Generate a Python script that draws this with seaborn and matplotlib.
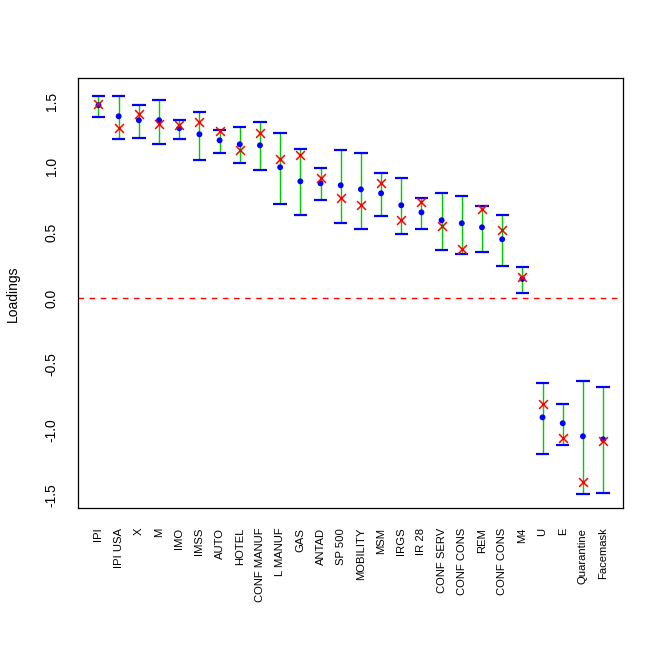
import numpy as np
import pandas as pd
import matplotlib
matplotlib.use("Agg")
import matplotlib.pyplot as plt
import seaborn as sns

# loadings
labels = ["IPI", "IPI USA", "X", "M", "IMO", "IMSS", "AUTO", "HOTEL",
          "CONF MANUF", "L MANUF", "GAS", "ANTAD", "SP 500", "MOBILITY",
          "MSM", "IRGS", "IR 28", "CONF SERV", "CONF CONS", "REM",
          "CONF CONS", "M4", "U", "E", "Quarantine", "Facemask"]
estimate = [1.469, 1.385, 1.355, 1.355, 1.294, 1.248, 1.202, 1.172,
            1.164, 0.997, 0.890, 0.875, 0.860, 0.829, 0.799, 0.708,
            0.654, 0.594, 0.571, 0.540, 0.449, 0.147, -0.906, -0.951,
            -1.050, -1.073]
alt_estimate = [1.479, 1.298, 1.405, 1.324, 1.320, 1.344, 1.276, 1.129,
                1.260, 1.063, 1.093, 0.913, 0.766, 0.708, 0.877, 0.598,
                0.730, 0.548, 0.373, 0.677, 0.522, 0.164, -0.802, -1.063,
                -1.396, -1.088]
upper = [1.542, 1.542, 1.473, 1.512, 1.359, 1.420, 1.283, 1.306,
         1.344, 1.260, 1.139, 0.994, 1.131, 1.106, 0.956, 0.918,
         0.766, 0.799, 0.781, 0.705, 0.634, 0.240, -0.642, -0.802,
         -0.627, -0.673]
lower = [1.382, 1.212, 1.220, 1.177, 1.212, 1.052, 1.108, 1.030,
         0.979, 0.718, 0.634, 0.750, 0.575, 0.530, 0.626, 0.489,
         0.530, 0.370, 0.339, 0.355, 0.248, 0.043, -1.183, -1.114,
         -1.487, -1.479]

df = pd.DataFrame({
    "pos": np.arange(1, len(labels) + 1),
    "label": labels,
    "estimate": estimate,
    "alt": alt_estimate,
    "upper": upper,
    "lower": lower,
})

sns.set_style("white")
plt.rcParams["font.family"] = ["Liberation Sans", "DejaVu Sans"]
plt.rcParams["text.color"] = "black"
plt.rcParams["axes.labelcolor"] = "black"
plt.rcParams["xtick.color"] = "black"
plt.rcParams["ytick.color"] = "black"

fig = plt.figure(figsize=(6.64, 6.64), dpi=100)
ax = fig.add_axes([78.3 / 664, 1 - 508.3 / 664, 545 / 664, 430 / 664])

# intervals and caps
ax.vlines(df["pos"], df["lower"], df["upper"], color="#00cc00", lw=1.0, zorder=2)
cap = 0.33
ax.hlines(df["upper"], df["pos"] - cap, df["pos"] + cap, color="#0000ff", lw=1.6, zorder=3)
ax.hlines(df["lower"], df["pos"] - cap, df["pos"] + cap, color="#0000ff", lw=1.6, zorder=3)

sns.scatterplot(data=df, x="pos", y="estimate", ax=ax, color="#0000ff",
                marker="o", s=18, edgecolor="none", zorder=4, legend=False)
sns.scatterplot(data=df, x="pos", y="alt", ax=ax, color="#ff0000",
                marker="x", s=40, linewidth=1.1, zorder=5, legend=False)

ax.axhline(0, color="#ff0000", lw=1.0, ls=(0, (4, 4)), zorder=1)

n = len(labels)
ax.set_xlim(1 - 0.04 * (n - 1), n + 0.04 * (n - 1))
ax.set_ylim(-1.598, 1.674)

ax.set_xticks(df["pos"])
ax.set_xticklabels(df["label"], rotation=90, fontsize=8.1)
ax.set_yticks([-1.5, -1.0, -0.5, 0.0, 0.5, 1.0, 1.5])
ax.set_yticklabels(["-1.5", "-1.0", "-0.5", "0.0", "0.5", "1.0", "1.5"],
                   rotation=90, va="center", fontsize=10)
ax.tick_params(axis="both", direction="out", length=7, width=0.8, color="black")
ax.tick_params(axis="x", pad=7)
ax.tick_params(axis="y", pad=7)

ax.set_xlabel("")
ax.set_ylabel("Loadings", fontsize=10)
ax.yaxis.set_label_coords(-0.107, 0.5)

for side in ["left", "right", "top", "bottom"]:
    ax.spines[side].set_visible(True)
    ax.spines[side].set_color("black")
    ax.spines[side].set_linewidth(0.9)

fig.savefig("out.png", dpi=100, facecolor="white")
